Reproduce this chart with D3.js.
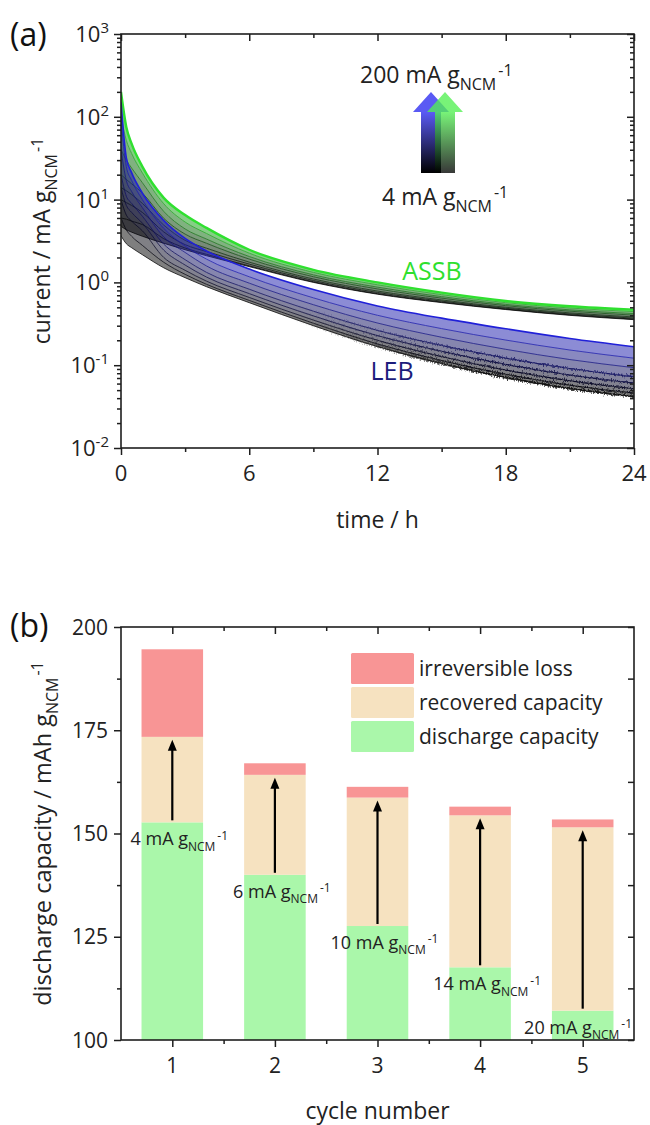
<!DOCTYPE html>
<html>
<head>
<meta charset="utf-8">
<script src="https://cdn.jsdelivr.net/npm/d3@7"></script>
<style>
  body { margin: 0; background: #fff; }
  svg { display: block; font-family: "Open Sans", sans-serif; }
</style>
</head>
<body>
<svg id="chart" width="650" height="1125"></svg>
<script>
// ---------- panel (a): current decay during the 24 h potentiostatic hold ----------
const hours = [0, 0.25, 0.5, 1, 2, 3, 4, 6, 9, 12, 15, 18, 21, 24];
const rates = [4, 6, 10, 14, 20, 40, 100, 200];   // mA g_NCM^-1, low -> high

// all-solid-state cells (one row per rate, values in mA g_NCM^-1)
const assbCurrent = [
  [4.76, 4.32, 4.04, 3.61, 2.97, 2.48, 2.10, 1.55,  1.0,   0.72,  0.57,  0.47,   0.40,   0.355],
  [6,    5.8,  5.5,  5.0,  3.37, 2.60, 2.18, 1.585, 1.018, 0.731, 0.578, 0.4755, 0.405,  0.36],
  [10,   9.2,  8.5,  7.0,  4.07, 2.86, 2.36, 1.662, 1.054, 0.756, 0.594, 0.487,  0.4155, 0.37],
  [14,   12.8, 11.5, 9.0,  4.92, 3.22, 2.59, 1.758, 1.099, 0.786, 0.614, 0.501,  0.4285, 0.3826],
  [20,   17.5, 15.5, 12,   5.94, 3.83, 2.97, 1.913, 1.171, 0.834, 0.646, 0.5235, 0.449,  0.402],
  [40,   30,   24,   16,   7.19, 4.42, 3.34, 2.053, 1.234, 0.877, 0.673, 0.5425, 0.4662, 0.4195],
  [100,  52,   36,   21,   8.91, 5.36, 3.90, 2.255, 1.323, 0.936, 0.711, 0.569,  0.4907, 0.4435],
  [200,  75,   47,   25,   10.5, 6.5,  4.55, 2.48,  1.42,  1.0,   0.752, 0.597,  0.516,  0.469]
];

// liquid-electrolyte cells
const lebCurrent = [
  [3.66, 2.93, 2.62, 2.16, 1.50, 1.14, 0.887, 0.569,  0.300,  0.1676, 0.1045, 0.0709, 0.0522, 0.0418],
  [6,    4.3,  3.6,  2.8,  1.75, 1.25, 0.949, 0.6056, 0.3213, 0.1808, 0.1138, 0.0776, 0.0573, 0.0459],
  [10,   6.5,  5.5,  4.2,  2.0,  1.4,  1.035, 0.6578, 0.3510, 0.1998, 0.1272, 0.0874, 0.0648, 0.0518],
  [14,   8.5,  7.0,  5.2,  2.45, 1.62, 1.161, 0.7323, 0.3939, 0.2276, 0.1471, 0.1022, 0.0760, 0.0607],
  [20,   11,   9.0,  6.3,  2.9,  1.88, 1.321, 0.8270, 0.4489, 0.2636, 0.1733, 0.1219, 0.0911, 0.0727],
  [40,   17,   12.5, 8.0,  3.55, 2.3,  1.580, 0.979,  0.5378, 0.3232, 0.2176, 0.1556, 0.1170, 0.0933],
  [95,   25,   17,   10,   4.5,  2.75, 1.909, 1.1695, 0.6510, 0.4007, 0.2767, 0.2012, 0.1525, 0.1215],
  [150,  32,   21,   12,   5.6,  3.4,  2.4,   1.45,   0.82,   0.52,   0.37,   0.275,  0.21,   0.167]
];

const timeTicks = [0, 6, 12, 18, 24];
const timeMinor = [3, 9, 15, 21];
const currentExponents = [-2, -1, 0, 1, 2, 3];

// ---------- panel (b): capacity recovery per cycle ----------
const cycles = [1, 2, 3, 4, 5];
const dischargeCapacity = [152.7, 140.0, 127.6, 117.6, 107.1];
const recoveredTop      = [173.4, 164.2, 158.7, 154.4, 151.5];
const chargeTotal       = [194.6, 167.0, 161.3, 156.5, 153.4];
const cycleRates = ["4", "6", "10", "14", "20"];
const capacityTicks = [100, 125, 150, 175, 200];
const capacityMinor = [112.5, 137.5, 162.5, 187.5];
const cycleMinor = [1.5, 2.5, 3.5, 4.5];
const legendNames = ["irreversible loss", "recovered capacity", "discharge capacity"];

const ink = "#1e1e1e";
const svg = d3.select("#chart");
const defs = svg.append("defs");

// text with a "g_NCM^-1" unit tail
function unitText(sel, lead, size) {
  sel.append("tspan").text(lead + "g");
  const small = Math.round(size * 0.68);
  sel.append("tspan").attr("font-size", small).attr("dy", size * 0.3).text("NCM");
  sel.append("tspan").attr("font-size", small).attr("dy", -size * 0.62).attr("dx", 2).text("-1");
}

// ================= panel (a) =================
const A = { left: 121, right: 634, top: 34, bottom: 448 };
const x = d3.scaleLinear().domain([0, 24]).range([A.left, A.right]);
const y = d3.scaleLog().domain([1e-2, 1e3]).range([A.bottom, A.top]);

defs.append("clipPath").attr("id", "clipA")
  .append("rect").attr("x", A.left).attr("y", A.top)
  .attr("width", A.right - A.left).attr("height", A.bottom - A.top);

// noise on the slow LEB traces fades in over the later hours
const ramp = defs.append("linearGradient").attr("id", "rampLate")
  .attr("gradientUnits", "userSpaceOnUse")
  .attr("x1", x(8)).attr("x2", x(17)).attr("y1", 0).attr("y2", 0);
ramp.append("stop").attr("offset", "0%").attr("stop-color", "#fff").attr("stop-opacity", 0);
ramp.append("stop").attr("offset", "100%").attr("stop-color", "#fff").attr("stop-opacity", 1);
defs.append("mask").attr("id", "maskLate").attr("maskUnits", "userSpaceOnUse")
  .attr("x", A.left).attr("y", A.top).attr("width", A.right - A.left).attr("height", A.bottom - A.top)
  .append("rect").attr("x", A.left).attr("y", A.top)
  .attr("width", A.right - A.left).attr("height", A.bottom - A.top)
  .attr("fill", "url(#rampLate)");

const noise = defs.append("filter").attr("id", "jitter")
  .attr("x", "-5%").attr("y", "-20%").attr("width", "110%").attr("height", "140%");
noise.append("feTurbulence").attr("type", "fractalNoise")
  .attr("baseFrequency", "1.1 0.3").attr("numOctaves", 2).attr("seed", 7).attr("result", "n");
noise.append("feDisplacementMap").attr("in", "SourceGraphic").attr("in2", "n")
  .attr("scale", 6).attr("xChannelSelector", "R").attr("yChannelSelector", "G");

const gA = svg.append("g").attr("clip-path", "url(#clipA)");

const lineGen = d3.line()
  .x((d, i) => x(hours[i]))
  .y(d => y(d))
  .curve(d3.curveMonotoneX);

function bandGen(lower, upper) {
  return d3.area()
    .x((d, i) => x(hours[i]))
    .y0((d, i) => y(lower[i]))
    .y1((d, i) => y(upper[i]))
    .curve(d3.curveMonotoneX)(hours);
}

function familyColor(n, endColor, gamma) {
  return i => d3.interpolateRgb("#000000", endColor)(Math.pow(i / (n - 1), gamma));
}

function drawFamily(rows, endColor, gamma, fillOpacity, topWidth) {
  const n = rows.length;
  const col = familyColor(n, endColor, gamma);
  const g = gA.append("g");
  for (let i = 0; i < n - 1; i++) {
    g.append("path")
      .attr("d", bandGen(rows[i], rows[i + 1]))
      .attr("fill", col(i))
      .attr("fill-opacity", fillOpacity)
      .attr("stroke", "none");
  }
  rows.forEach((row, i) => {
    g.append("path")
      .attr("d", lineGen(row))
      .attr("fill", "none")
      .attr("stroke", col(i))
      .attr("stroke-opacity", i === n - 1 ? 1 : 0.75)
      .attr("stroke-width", i === n - 1 ? topWidth : 1);
  });
  return { g, col };
}

drawFamily(assbCurrent, "#2fe02f", 2, 0.55, 2.4);
const leb = drawFamily(lebCurrent, "#2020d8", 1.5, 0.5, 1.6);

// noisy tails of the slower LEB traces
const tails = gA.append("g").attr("mask", "url(#maskLate)")
  .append("g").attr("filter", "url(#jitter)");
lebCurrent.slice(0, 5).forEach((row, i) => {
  tails.append("path")
    .attr("d", lineGen(row))
    .attr("fill", "none")
    .attr("stroke", leb.col(i))
    .attr("stroke-opacity", 0.75)
    .attr("stroke-width", i === 0 ? 2.2 : 1.2);
});

// axes of panel (a)
const decadeVals = currentExponents.map(e => Math.pow(10, e));
const logMinor = [];
for (let e = -2; e < 3; e++) for (let k = 2; k <= 9; k++) logMinor.push(k * Math.pow(10, e));

function axisSet(g, axis) {
  g.call(axis);
  g.select(".domain").remove();
  g.selectAll("line").attr("stroke", ink).attr("stroke-width", 1.5);
  g.selectAll("text").remove();
}
axisSet(svg.append("g").attr("transform", `translate(0,${A.bottom})`),
  d3.axisBottom(x).tickValues(timeTicks).tickSize(7));
axisSet(svg.append("g").attr("transform", `translate(0,${A.bottom})`),
  d3.axisBottom(x).tickValues(timeMinor).tickSize(4));
axisSet(svg.append("g").attr("transform", `translate(0,${A.top})`),
  d3.axisTop(x).tickValues(timeTicks).tickSize(-7));
axisSet(svg.append("g").attr("transform", `translate(0,${A.top})`),
  d3.axisTop(x).tickValues(timeMinor).tickSize(-4));
axisSet(svg.append("g").attr("transform", `translate(${A.left},0)`),
  d3.axisLeft(y).tickValues(decadeVals).tickSize(7));
axisSet(svg.append("g").attr("transform", `translate(${A.left},0)`),
  d3.axisLeft(y).tickValues(logMinor).tickSize(4));
axisSet(svg.append("g").attr("transform", `translate(${A.right},0)`),
  d3.axisRight(y).tickValues(decadeVals).tickSize(-7));
axisSet(svg.append("g").attr("transform", `translate(${A.right},0)`),
  d3.axisRight(y).tickValues(logMinor).tickSize(-4));

svg.append("rect")
  .attr("x", A.left).attr("y", A.top)
  .attr("width", A.right - A.left).attr("height", A.bottom - A.top)
  .attr("fill", "none").attr("stroke", ink).attr("stroke-width", 1.6);

// tick labels
svg.append("g").selectAll("text").data(timeTicks).join("text")
  .attr("x", d => x(d)).attr("y", A.bottom + 33)
  .attr("text-anchor", "middle").attr("font-size", 22).attr("fill", "#222")
  .text(d => d);

const yl = svg.append("g").selectAll("text").data(currentExponents).join("text")
  .attr("x", A.left - 12).attr("y", d => y(Math.pow(10, d)) + 8)
  .attr("text-anchor", "end").attr("font-size", 22).attr("fill", "#222");
yl.append("tspan").text("10");
yl.append("tspan").attr("font-size", 15).attr("dy", -9).text(d => d);

// axis titles
svg.append("text")
  .attr("x", (A.left + A.right) / 2).attr("y", 528)
  .attr("text-anchor", "middle").attr("font-size", 23).attr("fill", "#222")
  .text("time / h");

svg.append("text")
  .attr("transform", `translate(50,${(A.top + A.bottom) / 2}) rotate(-90)`)
  .attr("text-anchor", "middle").attr("font-size", 23).attr("fill", "#222")
  .call(unitText, "current / mA ", 23);

svg.append("text").attr("x", 10).attr("y", 46)
  .attr("font-size", 32).attr("fill", "#111").text("(a)");

// series labels
svg.append("text").attr("x", 432).attr("y", 280).attr("text-anchor", "middle")
  .attr("font-size", 25).attr("fill", "#2ee02e").text("ASSB");
svg.append("text").attr("x", 392).attr("y", 380).attr("text-anchor", "middle")
  .attr("font-size", 25).attr("fill", "#1c1c7c").text("LEB");

// rate arrows (black = 4 mA g^-1 up to 200 mA g^-1)
function arrowGradient(id, top) {
  const gr = defs.append("linearGradient").attr("id", id)
    .attr("x1", 0).attr("y1", 1).attr("x2", 0).attr("y2", 0);
  gr.append("stop").attr("offset", "0%").attr("stop-color", "#000");
  gr.append("stop").attr("offset", "75%").attr("stop-color", top);
  gr.append("stop").attr("offset", "100%").attr("stop-color", top);
}
arrowGradient("gradBlue", "#5a5af4");
arrowGradient("gradGreen", "#52f052");

function upArrow(cx, fill, opacity) {
  const tip = 92, neck = 112, base = 173, shaft = 10, head = 18;
  const pts = [[cx, tip], [cx + head, neck], [cx + shaft, neck], [cx + shaft, base],
               [cx - shaft, base], [cx - shaft, neck], [cx - head, neck]];
  svg.append("polygon").attr("points", pts.map(p => p.join(",")).join(" "))
    .attr("fill", fill).attr("fill-opacity", opacity);
}
upArrow(431, "url(#gradBlue)", 1);
upArrow(445, "url(#gradGreen)", 0.78);

svg.append("text").attr("x", 360).attr("y", 83)
  .attr("font-size", 23).attr("fill", "#222").call(unitText, "200 mA ", 23);
svg.append("text").attr("x", 382).attr("y", 205)
  .attr("font-size", 23).attr("fill", "#222").call(unitText, "4 mA ", 23);

// ================= panel (b) =================
const B = { left: 121, right: 634, top: 627, bottom: 1040 };
const xb = d3.scaleLinear().domain([0.5, 5.5]).range([B.left, B.right]);
const yb = d3.scaleLinear().domain([100, 200]).range([B.bottom, B.top]);
const barW = xb(0.6) - xb(0);

const colLoss = "#f89595", colRecovered = "#f6e2c0", colDischarge = "#aaf7aa";

const gB = svg.append("g");
cycles.forEach((c, i) => {
  const bx = xb(c) - barW / 2;
  gB.append("rect").attr("x", bx).attr("width", barW)
    .attr("y", yb(dischargeCapacity[i])).attr("height", yb(100) - yb(dischargeCapacity[i]))
    .attr("fill", colDischarge);
  gB.append("rect").attr("x", bx).attr("width", barW)
    .attr("y", yb(recoveredTop[i])).attr("height", yb(dischargeCapacity[i]) - yb(recoveredTop[i]))
    .attr("fill", colRecovered);
  gB.append("rect").attr("x", bx).attr("width", barW)
    .attr("y", yb(chargeTotal[i])).attr("height", yb(recoveredTop[i]) - yb(chargeTotal[i]))
    .attr("fill", colLoss);
});

// recovery arrows
cycles.forEach((c, i) => {
  const cx = xb(c);
  const y0 = yb(dischargeCapacity[i]) - 2;
  const yTip = yb(recoveredTop[i]) + 3;
  gB.append("line").attr("x1", cx).attr("x2", cx)
    .attr("y1", y0).attr("y2", yTip + 9)
    .attr("stroke", "#000").attr("stroke-width", 2.2);
  gB.append("polygon")
    .attr("points", `${cx},${yTip} ${cx - 4.5},${yTip + 11} ${cx + 4.5},${yTip + 11}`)
    .attr("fill", "#000");
});

// rate labels under the discharge level
cycles.forEach((c, i) => {
  const t = gB.append("text")
    .attr("x", xb(c) + 7).attr("y", yb(dischargeCapacity[i]) + 23)
    .attr("text-anchor", "middle").attr("font-size", 18).attr("fill", "#222")
    .call(unitText, cycleRates[i] + " mA ", 18);
  const bb = t.node().getBBox();
  if (bb.x + bb.width > B.right - 2) t.attr("x", +t.attr("x") - (bb.x + bb.width - (B.right - 2)));
});

// axes of panel (b)
axisSet(svg.append("g").attr("transform", `translate(0,${B.bottom})`),
  d3.axisBottom(xb).tickValues(cycles).tickSize(7));
axisSet(svg.append("g").attr("transform", `translate(0,${B.bottom})`),
  d3.axisBottom(xb).tickValues(cycleMinor).tickSize(4));
axisSet(svg.append("g").attr("transform", `translate(0,${B.top})`),
  d3.axisTop(xb).tickValues(cycles).tickSize(-7));
axisSet(svg.append("g").attr("transform", `translate(0,${B.top})`),
  d3.axisTop(xb).tickValues(cycleMinor).tickSize(-4));
axisSet(svg.append("g").attr("transform", `translate(${B.left},0)`),
  d3.axisLeft(yb).tickValues(capacityTicks).tickSize(7));
axisSet(svg.append("g").attr("transform", `translate(${B.left},0)`),
  d3.axisLeft(yb).tickValues(capacityMinor).tickSize(4));
axisSet(svg.append("g").attr("transform", `translate(${B.right},0)`),
  d3.axisRight(yb).tickValues(capacityTicks.concat(capacityMinor)).tickSize(-6));

svg.append("rect")
  .attr("x", B.left).attr("y", B.top)
  .attr("width", B.right - B.left).attr("height", B.bottom - B.top)
  .attr("fill", "none").attr("stroke", ink).attr("stroke-width", 1.6);

svg.append("g").selectAll("text").data(cycles).join("text")
  .attr("x", d => xb(d)).attr("y", 1073)
  .attr("text-anchor", "middle").attr("font-size", 21).attr("fill", "#222")
  .text(d => d);
svg.append("g").selectAll("text").data(capacityTicks).join("text")
  .attr("x", B.left - 13).attr("y", d => yb(d) + 7.5)
  .attr("text-anchor", "end").attr("font-size", 21).attr("fill", "#222")
  .text(d => d);

svg.append("text")
  .attr("x", (B.left + B.right) / 2).attr("y", 1119)
  .attr("text-anchor", "middle").attr("font-size", 23).attr("fill", "#222")
  .text("cycle number");

svg.append("text")
  .attr("transform", `translate(51,${(B.top + B.bottom) / 2}) rotate(-90)`)
  .attr("text-anchor", "middle").attr("font-size", 23.5).attr("fill", "#222")
  .call(unitText, "discharge capacity / mAh ", 23.5);

svg.append("text").attr("x", 10).attr("y", 637)
  .attr("font-size", 32).attr("fill", "#111").text("(b)");

// legend
const legendColors = [colLoss, colRecovered, colDischarge];
legendNames.forEach((name, i) => {
  const top = 653 + i * 34;
  svg.append("rect").attr("x", 351).attr("y", top).attr("width", 63).attr("height", 31)
    .attr("rx", 1.5).attr("fill", legendColors[i]);
  svg.append("text").attr("x", 419).attr("y", top + 23)
    .attr("font-size", 21).attr("fill", "#222").text(name);
});
</script>
</body>
</html>
